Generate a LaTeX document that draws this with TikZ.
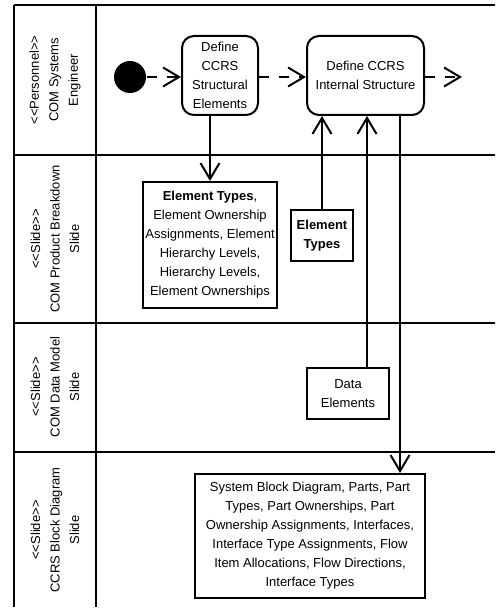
\documentclass[tikz,border=0pt]{standalone}
\usepackage{fontspec}
\setmainfont{Liberation Sans}
\usetikzlibrary{arrows.meta}
\newcommand\myll{<\kern0pt<}
\newcommand\mygg{>\kern0pt>}
\begin{document}
\begin{tikzpicture}[x=1pt,y=-1pt, line width=2pt,
 every node/.append style={font=\fontsize{13}{19}\selectfont},
 act/.style={draw, rounded corners=12pt, align=center, inner sep=0pt},
 obj/.style={draw, align=center, inner sep=0pt},
 flow/.style={-{Straight Barb[length=16pt,width=19pt]}},
 cflow/.style={flow, dash pattern=on 10pt off 10pt},
 lane/.style={rotate=90, align=center, font=\fontsize{13}{19.5}\selectfont}]
\useasboundingbox (0,0) rectangle (495,609);
% swimlane frame
\draw (14,5) -- (495,5);
\draw (14,155) -- (495,155);
\draw (14,323) -- (495,323);
\draw (14,452) -- (495,452);
\draw (14,5) -- (14,607);
\draw (96,5) -- (96,607);
% lane labels
\node[lane] (l1) at (55,80) {\myll Personnel\mygg\\COM Systems\\Engineer};
\node[lane] (l2) at (55,239) {\myll Slide\mygg\\COM Product Breakdown\\Slide};
\node[lane] (l3) at (55,387) {\myll Slide\mygg\\COM Data Model\\Slide};
\node[lane] (l4) at (55,530) {\myll Slide\mygg\\CCRS Block Diagram\\Slide};
% nodes
\node[circle, fill=black, inner sep=0pt, minimum size=32pt] (init) at (130,77) {};
\node[act, minimum width=76pt, minimum height=79pt] (a1) at (220,75.5) {Define\\CCRS\\Structural\\Elements};
\node[act, minimum width=117pt, minimum height=79pt] (a2) at (365.5,75.5) {Define CCRS\\Internal Structure};
\coordinate (out) at (462,77);
\node[obj, minimum width=134pt, minimum height=126pt] (o1) at (210,245) {\textbf{Element Types},\\Element Ownership\\Assignments, Element\\Hierarchy Levels,\\Hierarchy Levels,\\Element Ownerships};
\node[obj, minimum width=62pt, minimum height=51pt] (o2) at (322,235.5) {\textbf{Element}\\\textbf{Types}};
\node[obj, minimum width=82pt, minimum height=51pt] (o3) at (348,393.5) {Data\\Elements};
\node[obj, minimum width=230pt, minimum height=124pt] (o4) at (310,536) {System Block Diagram, Parts, Part\\Types, Part Ownerships, Part\\Ownership Assignments, Interfaces,\\Interface Type Assignments, Flow\\Item Allocations, Flow Directions,\\Interface Types};
% connectors
\draw[cflow] (init) -- (a1.west |- init);
\draw[cflow] (a1.east |- init) -- (a2.west |- init);
\draw[cflow] (a2.east |- out) -- (out);
\draw[flow] (o1.north |- a1.south) -- (o1.north);
\draw[flow] (o2.north) -- (o2.north |- a2.south);
\draw[flow] ([xshift=19pt]o3.north) -- ([xshift=19pt]o3.north |- a2.south);
\draw[flow] ([xshift=34.5pt]a2.south) -- ([xshift=34.5pt]a2.south |- o4.north);
\end{tikzpicture}
\end{document}
